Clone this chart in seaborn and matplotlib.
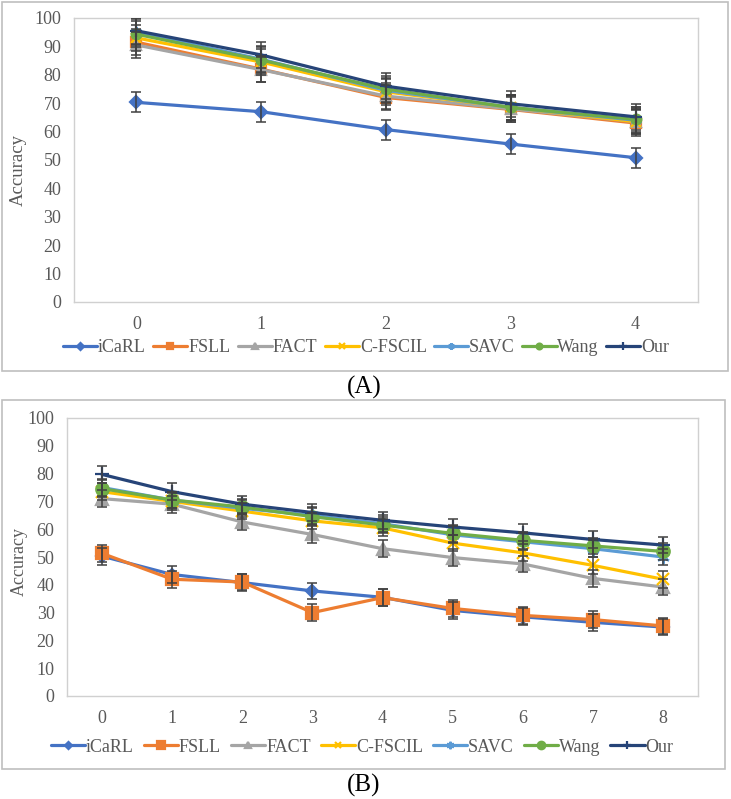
import matplotlib
matplotlib.use("Agg")
import matplotlib.pyplot as plt
import seaborn as sns
import numpy as np
import pandas as pd
from matplotlib.patches import Rectangle

sns.set_theme(style="white")
plt.rcParams['font.family'] = ['Liberation Serif', 'DejaVu Serif']

# ---------------- data ----------------
methods = ["iCaRL", "FSLL", "FACT", "C-FSCIL", "SAVC", "Wang", "Our"]

sessions_a = [0, 1, 2, 3, 4]
a_icarl = [70.3, 67.0, 60.7, 55.6, 50.8]
a_fsll = [91.5, 82.0, 72.0, 67.8, 63.0]
a_fact = [90.5, 81.8, 72.5, 68.0, 63.5]
a_cfscil = [93.0, 84.5, 74.0, 68.5, 63.5]
a_savc = [95.0, 85.5, 74.5, 68.5, 64.0]
a_wang = [94.3, 85.2, 75.0, 68.5, 64.3]
a_our = [95.5, 87.0, 76.0, 69.8, 65.2]
a_err = [3.5, 4.5, 4.5, 4.5, 4.5, 4.5, 4.5]

sessions_b = [0, 1, 2, 3, 4, 5, 6, 7, 8]
b_icarl = [50.3, 43.7, 40.8, 37.8, 35.5, 30.8, 28.5, 26.5, 24.8]
b_fsll = [51.3, 42.0, 41.0, 30.0, 35.4, 31.5, 29.0, 27.5, 25.2]
b_fact = [71.0, 69.0, 62.6, 58.1, 53.0, 49.8, 47.5, 42.3, 39.2]
b_cfscil = [73.5, 70.0, 66.5, 63.0, 60.5, 55.0, 51.5, 47.0, 42.0]
b_savc = [75.0, 70.5, 67.5, 65.0, 62.0, 58.0, 55.5, 53.0, 50.0]
b_wang = [74.6, 70.5, 68.0, 64.5, 61.5, 58.5, 56.0, 54.0, 52.0]
b_our = [79.7, 73.5, 69.0, 66.0, 63.2, 60.8, 58.7, 56.3, 54.3]
b_err = [3.0, 3.0, 3.0, 3.0, 3.0, 3.0, 3.0]

y_ticks = [0, 10, 20, 30, 40, 50, 60, 70, 80, 90, 100]

# ---------------- style ----------------
colors = ["#4472C4", "#ED7D31", "#A5A5A5", "#FFC000", "#5B9BD5", "#70AD47", "#264478"]
markers = ["D", "s", "^", "x", (6, 2, 0), "o", "+"]
msizes_a = [6, 7, 7, 7, 8, 7, 9]
msizes_b = [6, 9, 8, 8, 9, 9, 10]

W, H = 731, 799
fig = plt.figure(figsize=(W / 100, H / 100), dpi=100)

def fx(px):
    return px / W

def fy(py):
    return 1 - py / H

tick_color = "#595959"
spine_color = "#BFBFBF"


def draw_panel(ax, sessions, series, errs, msizes):
    for name, vals, err, c, m, ms in zip(methods, series, errs, colors, markers, msizes):
        df = pd.DataFrame({"session": sessions, "acc": vals})
        sns.lineplot(data=df, x="session", y="acc", ax=ax, color=c, linewidth=2.3,
                     marker=m, markersize=ms, markeredgecolor=c, markeredgewidth=1.6,
                     label=name, zorder=3)
    for vals, err in zip(series, errs):
        ax.errorbar(sessions, vals, yerr=err, fmt="none", ecolor="#404040",
                    elinewidth=1.1, capsize=3.5, capthick=1.1, zorder=4)
    ax.set_ylim(0, 100)
    ax.set_xlim(sessions[0] - 0.5, sessions[-1] + 0.5)
    ax.set_xticks(sessions)
    ax.set_yticks(y_ticks)
    ax.set_xlabel("")
    ax.set_ylabel("")
    ax.tick_params(axis="both", length=0, labelsize=13, colors=tick_color)
    ax.tick_params(axis="y", pad=9)
    ax.tick_params(axis="x", pad=10)
    for s in ax.spines.values():
        s.set_color("#D0D0D0")
        s.set_linewidth(1.0)
    ax.grid(False)
    leg = ax.get_legend()
    if leg is not None:
        leg.remove()


# panel A
axA = fig.add_axes([fx(74), fy(302), fx(698) - fx(74), fy(18) - fy(302)])
draw_panel(axA, sessions_a, [a_icarl, a_fsll, a_fact, a_cfscil, a_savc, a_wang, a_our], a_err, msizes_a)

# panel B
axB = fig.add_axes([fx(67), fy(696), fx(698) - fx(67), fy(418) - fy(696)])
draw_panel(axB, sessions_b, [b_icarl, b_fsll, b_fact, b_cfscil, b_savc, b_wang, b_our], b_err, msizes_b)

# outer boxes
fig.patches.append(Rectangle((fx(2), fy(371)), fx(728) - fx(2), fy(2) - fy(371),
                             transform=fig.transFigure, fill=False, edgecolor=spine_color,
                             linewidth=1.2, zorder=0))
fig.patches.append(Rectangle((fx(2), fy(769)), fx(725) - fx(2), fy(400) - fy(769),
                             transform=fig.transFigure, fill=False, edgecolor=spine_color,
                             linewidth=1.2, zorder=0))

# legends
for ax, cx, cy, cs in [(axA, 366, 348, 0.4), (axB, 362, 747, 0.55)]:
    handles, labels = ax.get_legend_handles_labels()
    fig.legend(handles, labels, loc="center", bbox_to_anchor=(fx(cx), fy(cy)),
               ncol=7, frameon=False, fontsize=13, handlelength=1.9,
               handletextpad=0.05, columnspacing=cs, labelcolor=tick_color,
               markerscale=0.6)

# y labels
fig.text(fx(18), fy(170), "Accuracy", rotation=90, ha="center", va="center",
         fontsize=13.5, color=tick_color)
fig.text(fx(19), fy(562), "Accuracy", rotation=90, ha="center", va="center",
         fontsize=13, color=tick_color)

# captions
fig.text(fx(364), fy(387), "(A)", ha="center", va="center", fontsize=18, color="black")
fig.text(fx(364), fy(785), "(B)", ha="center", va="center", fontsize=18, color="black")

fig.savefig("out.png", dpi=100)
